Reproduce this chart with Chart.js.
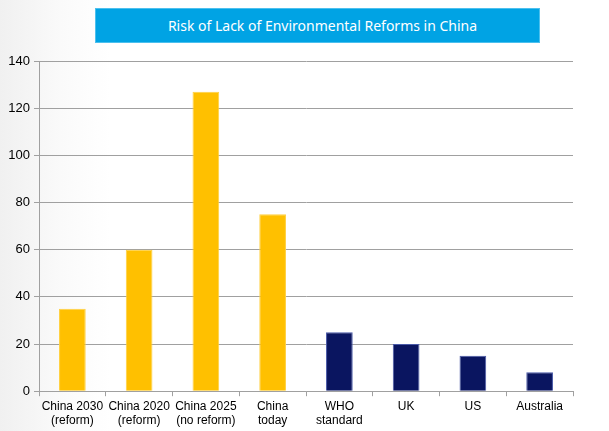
<!DOCTYPE html>
<html>
<head>
<meta charset="utf-8">
<script src="https://cdn.jsdelivr.net/npm/chart.js@4.4.1/dist/chart.umd.min.js"></script>
<style>
  html, body { margin: 0; padding: 0; }
  body {
    width: 609px; height: 431px; overflow: hidden; position: relative;
    background: linear-gradient(to right, #f0f0f0 0px, #fafafa 60px, #ffffff 110px);
  }
  #title {
    position: absolute; left: 95px; top: 8px; width: 445px; height: 35px;
    background: #00a3e4; color: #ffffff;
    font-family: "Noto Sans", "Open Sans", sans-serif; font-size: 14px;
    line-height: 33px; text-align: center; box-sizing: border-box;
    padding-left: 10px;
    border: 1px solid #4cc0ee;
  }
  #wrap { position: absolute; left: 0; top: 0; width: 609px; height: 431px; }
</style>
</head>
<body>
<div id="wrap"><canvas id="riskChart"></canvas></div>
<div id="title">Risk of Lack of Environmental Reforms in China</div>
<script>
// Chart data
const categories = [
    ['China 2030', '(reform)'],
    ['China 2020', '(reform)'],
    ['China 2025', '(no reform)'],
    ['China', 'today'],
    ['WHO', 'standard'],
    ['UK'],
    ['US'],
    ['Australia']
];
const values = [35, 60, 127, 75, 25, 20, 15, 8];
const yTicks = [0, 20, 40, 60, 80, 100, 120, 140];

const yellow = '#ffc000';
const navy = '#0a1560';
const barColors = values.map((v, i) => i < 4 ? yellow : navy);
const barBorders = values.map((v, i) => i < 4 ? '#ffd040' : '#4a5aa8');

const ctx = document.getElementById('riskChart').getContext('2d');
new Chart(ctx, {
    type: 'bar',
    data: {
        labels: categories,
        datasets: [{
            data: values,
            backgroundColor: barColors,
            borderColor: barBorders,
            borderWidth: 1,
            categoryPercentage: 1.0,
            barPercentage: 0.4
        }]
    },
    options: {
        responsive: true,
        maintainAspectRatio: false,
        animation: false,
        layout: { padding: { top: 61, right: 36, bottom: 0, left: 0 } },
        plugins: {
            legend: { display: false },
            tooltip: { enabled: false }
        },
        scales: {
            x: {
                grid: {
                    drawOnChartArea: false,
                    drawTicks: true,
                    tickLength: 5,
                    color: '#a0a0a0'
                },
                border: { color: '#a0a0a0', width: 1 },
                ticks: {
                    color: '#000000',
                    font: { family: 'Liberation Sans, Arial, sans-serif', size: 12 },
                    padding: 3,
                    maxRotation: 0,
                    autoSkip: false
                }
            },
            y: {
                min: 0,
                max: 140,
                afterBuildTicks: (scale) => {
                    scale.ticks = yTicks.map(v => ({ value: v }));
                },
                afterFit: (scale) => { scale.width = 39; },
                grid: {
                    color: '#a0a0a0',
                    tickLength: 5,
                    lineWidth: 1
                },
                border: { color: '#a0a0a0', width: 1 },
                ticks: {
                    color: '#000000',
                    font: { family: 'Liberation Sans, Arial, sans-serif', size: 13 },
                    padding: 4
                }
            }
        }
    }
});
</script>
</body>
</html>
